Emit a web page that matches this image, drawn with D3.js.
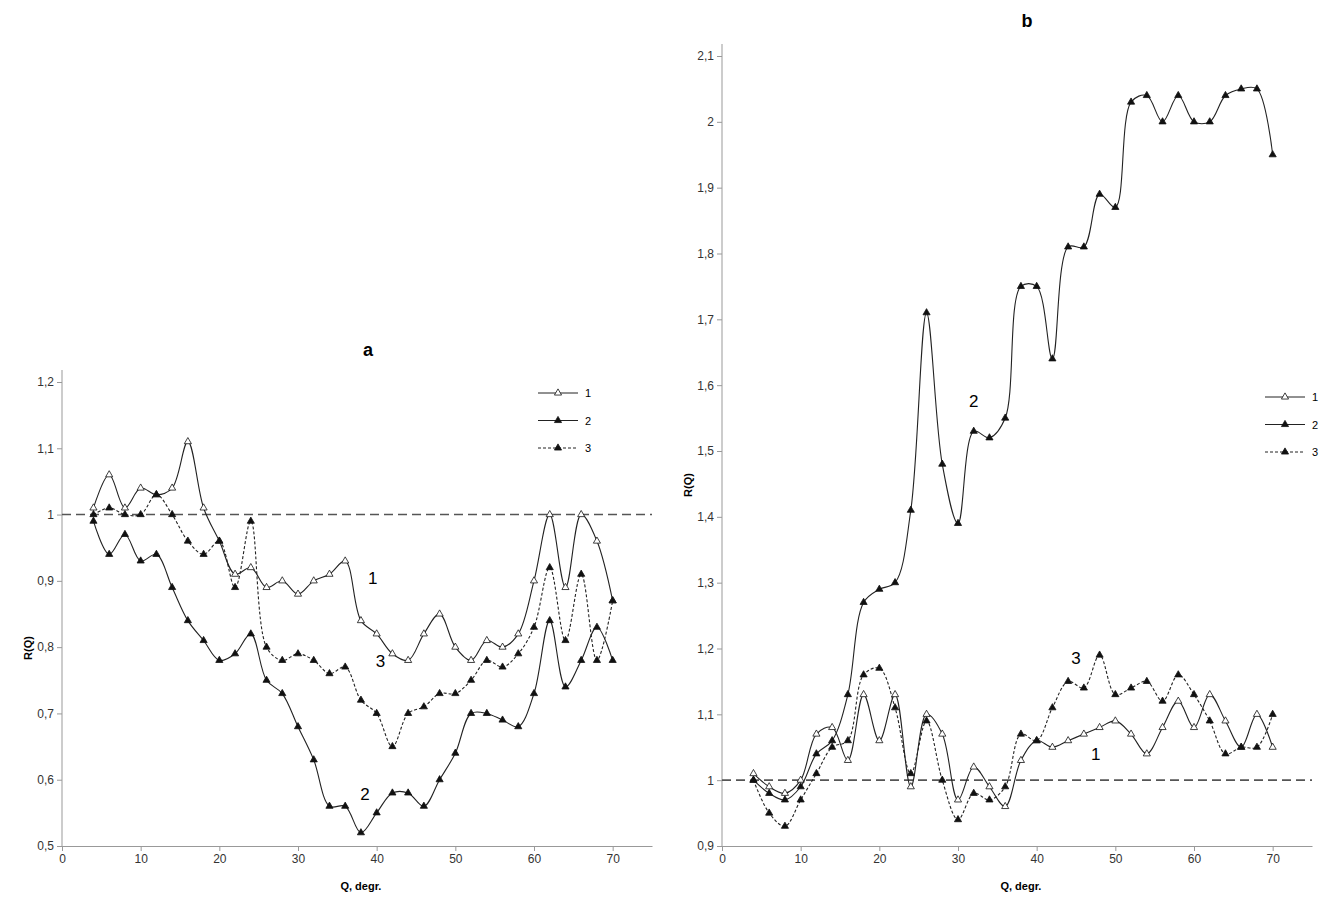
<!DOCTYPE html>
<html><head><meta charset="utf-8">
<script src="https://cdn.jsdelivr.net/npm/d3@7"></script>
<style>body{margin:0;background:#fff}text{font-family:"Liberation Sans",Arial,sans-serif}</style>
</head><body><svg id="c" width="1320" height="903"></svg>
<script>
const angles = d3.range(4, 71, 2);
const a1 = [1.01,1.06,1.01,1.04,1.03,1.04,1.11,1.01,0.96,0.91,0.92,0.89,0.90,0.88,0.90,0.91,0.93,0.84,0.82,0.79,0.78,0.82,0.85,0.80,0.78,0.81,0.80,0.82,0.90,1.00,0.89,1.00,0.96,0.87];
const a2 = [0.99,0.94,0.97,0.93,0.94,0.89,0.84,0.81,0.78,0.79,0.82,0.75,0.73,0.68,0.63,0.56,0.56,0.52,0.55,0.58,0.58,0.56,0.60,0.64,0.70,0.70,0.69,0.68,0.73,0.84,0.74,0.78,0.83,0.78];
const a3 = [1.00,1.01,1.00,1.00,1.03,1.00,0.96,0.94,0.96,0.89,0.99,0.80,0.78,0.79,0.78,0.76,0.77,0.72,0.70,0.65,0.70,0.71,0.73,0.73,0.75,0.78,0.77,0.79,0.83,0.92,0.81,0.91,0.78,0.87];
const b1 = [1.01,0.99,0.98,1.00,1.07,1.08,1.03,1.13,1.06,1.13,0.99,1.10,1.07,0.97,1.02,0.99,0.96,1.03,1.06,1.05,1.06,1.07,1.08,1.09,1.07,1.04,1.08,1.12,1.08,1.13,1.09,1.05,1.10,1.05];
const b2 = [1.00,0.98,0.97,0.99,1.04,1.06,1.13,1.27,1.29,1.30,1.41,1.71,1.48,1.39,1.53,1.52,1.55,1.75,1.75,1.64,1.81,1.81,1.89,1.87,2.03,2.04,2.00,2.04,2.00,2.00,2.04,2.05,2.05,1.95];
const b3 = [1.00,0.95,0.93,0.97,1.01,1.05,1.06,1.16,1.17,1.11,1.01,1.09,1.00,0.94,0.98,0.97,0.99,1.07,1.06,1.11,1.15,1.14,1.19,1.13,1.14,1.15,1.12,1.16,1.13,1.09,1.04,1.05,1.05,1.10];
const xTicks = [0,10,20,30,40,50,60,70];
const aYTicks = [0.5,0.6,0.7,0.8,0.9,1,1.1,1.2];
const bYTicks = [0.9,1,1.1,1.2,1.3,1.4,1.5,1.6,1.7,1.8,1.9,2,2.1];
const legendNames = ["1","2","3"];

const svg = d3.select("#c");
const fmt = v => String(+v.toFixed(1)).replace(".", ",");

function panel(o){
  const x = d3.scaleLinear().domain([0,75]).range([o.x0,o.x1]);
  const y = d3.scaleLinear().domain(o.ydom).range([o.yb,o.yt]);
  const g = svg.append("g");
  const ax = g.append("g").attr("transform",`translate(0,${o.yb})`)
    .call(d3.axisBottom(x).tickValues(xTicks).tickSize(5).tickSizeOuter(0).tickFormat(d3.format("d")));
  const ay = g.append("g").attr("transform",`translate(${o.x0},0)`)
    .call(d3.axisLeft(y).tickValues(o.yticks).tickSize(5).tickSizeOuter(0).tickFormat(fmt));
  ay.select(".domain").attr("d",`M0,${o.ytop}V${o.yb}`);
  [ax,ay].forEach(a=>{a.selectAll("path,line").attr("stroke","#999");a.selectAll("text").attr("font-size",12).attr("fill","#333").attr("font-family","Liberation Sans, Arial");});
  g.append("line").attr("x1",o.x0).attr("x2",o.x1).attr("y1",y(1)).attr("y2",y(1))
    .attr("stroke","#555").attr("stroke-width",1.6).attr("stroke-dasharray","9,5");
  const line = d3.line().x((d,i)=>x(angles[i])).y(d=>y(d)).curve(d3.curveCatmullRom.alpha(0.5));
  const tri = d3.symbol().type(d3.symbolTriangle).size(22);
  o.series.forEach((s,k)=>{
    g.append("path").attr("d",line(s)).attr("fill","none").attr("stroke","#222")
      .attr("stroke-width",1.1).attr("stroke-dasharray",k===2?"3,2":null);
    g.selectAll(null).data(s).enter().append("path").attr("d",tri)
      .attr("transform",(d,i)=>`translate(${x(angles[i])},${y(d)})`)
      .attr("fill",k===0?"#fff":"#111").attr("stroke","#111").attr("stroke-width",0.8);
  });
  legendNames.forEach((n,k)=>{
    const ly = o.ly + k*27.5;
    g.append("line").attr("x1",o.lx).attr("x2",o.lx+40).attr("y1",ly).attr("y2",ly)
      .attr("stroke","#222").attr("stroke-width",1).attr("stroke-dasharray",k===2?"3,2":null);
    g.append("path").attr("d",tri).attr("transform",`translate(${o.lx+20},${ly})`)
      .attr("fill",k===0?"#fff":"#111").attr("stroke","#111").attr("stroke-width",0.8);
    g.append("text").attr("x",o.lx+47).attr("y",ly+4).attr("font-size",11).text(n);
  });
  g.append("text").attr("x",o.tx).attr("y",o.ty).attr("font-size",18).attr("font-weight","bold").attr("text-anchor","middle").text(o.title);
  g.append("text").attr("transform",`translate(${o.x0-30},${(o.yb+o.ytop)/2+40}) rotate(-90)`).attr("font-size",11).attr("font-weight","bold").attr("text-anchor","middle").text("R(Q)");
  g.append("text").attr("x",x(38)).attr("y",o.yb+44).attr("font-size",11).attr("font-weight","bold").attr("text-anchor","middle").text("Q, degr.");
  o.labels.forEach(l=>g.append("text").attr("x",x(l[1])).attr("y",y(l[2])).attr("font-size",17).attr("text-anchor","middle").attr("dominant-baseline","middle").text(l[0]));
}

panel({x0:62,x1:652,yb:846,yt:382,ytop:370,ydom:[0.5,1.2],yticks:aYTicks,series:[a1,a2,a3],
  lx:538,ly:393,tx:368,ty:356,title:"a",labels:[["1",39.5,0.902],["3",40.5,0.777],["2",38.5,0.576]]});
panel({x0:722,x1:1312,yb:846,yt:56,ytop:44,ydom:[0.9,2.1],yticks:bYTicks,series:[b1,b2,b3],
  lx:1265,ly:397,tx:1027,ty:27,title:"b",labels:[["2",32,1.573],["3",45,1.184],["1",47.5,1.037]]});
</script></body></html>
